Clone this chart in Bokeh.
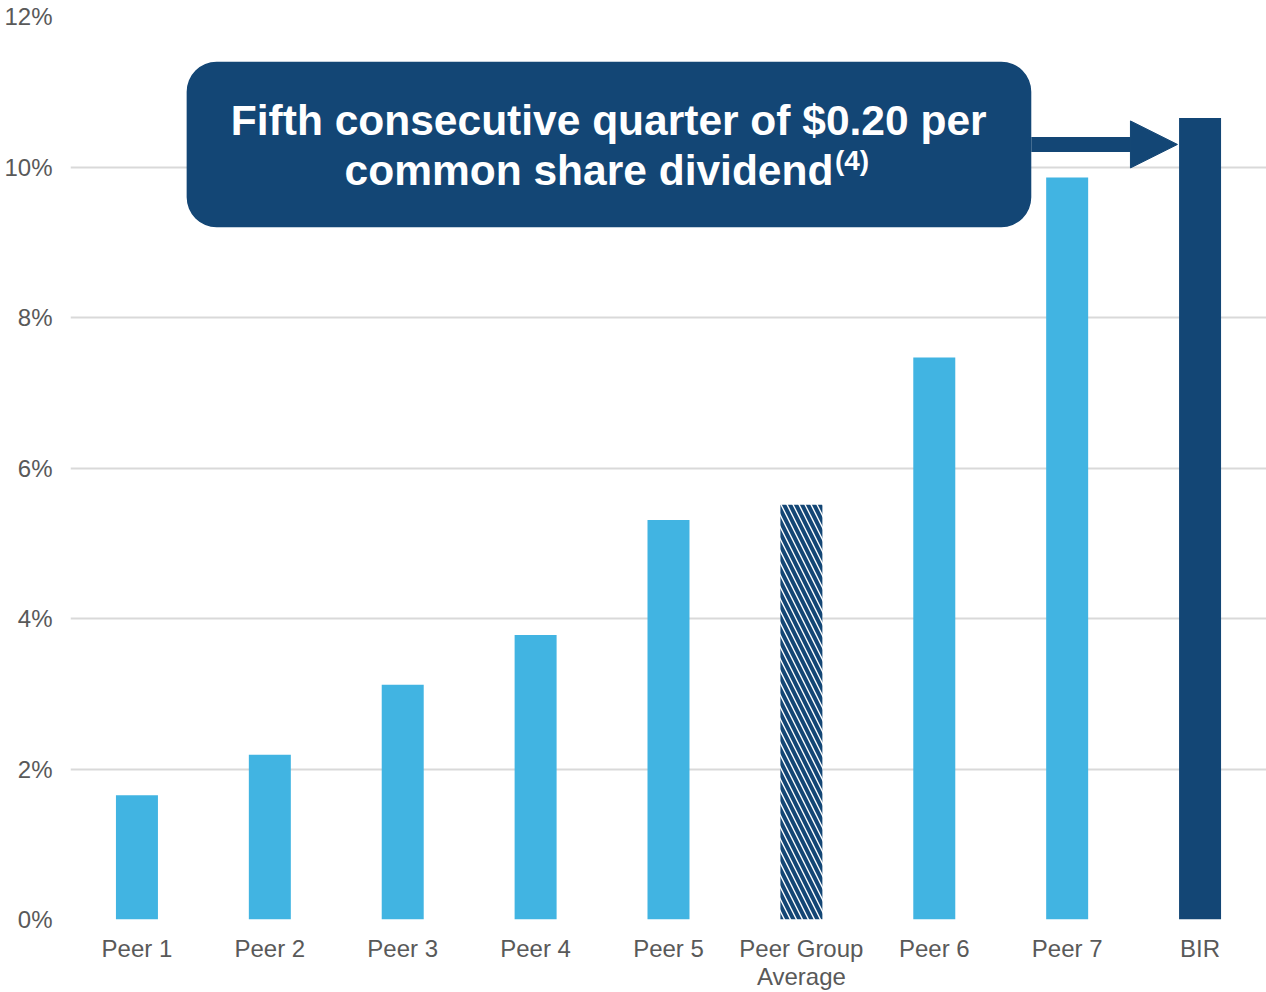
from bokeh.plotting import figure
from bokeh.models import (Range1d, FixedTicker, PrintfTickFormatter, BoxAnnotation,
                          Label, Arrow, NormalHead)
from bokeh.embed import file_html
from bokeh.resources import INLINE

# ---- data ----
categories = ["Peer 1", "Peer 2", "Peer 3", "Peer 4", "Peer 5",
              "Peer Group\nAverage", "Peer 6", "Peer 7", "BIR"]
values = [1.65, 2.19, 3.12, 3.78, 5.31, 5.51, 7.47, 9.86, 10.65]
kinds = ["peer", "peer", "peer", "peer", "peer", "avg", "peer", "peer", "bir"]
y_ticks = [0, 2, 4, 6, 8, 10, 12]
title_line1 = "Fifth consecutive quarter of $0.20 per"
title_line2 = "common share dividend"
title_sup = "(4)"

LIGHT = "#41B4E2"
NAVY = "#134675"
GRID = "#D9D9D9"
LABEL = "#595959"
FONT = "Liberation Sans"

xs = [i + 0.5 for i in range(len(categories))]

p = figure(width=1266, height=992, output_backend="svg", toolbar_location=None,
           x_range=Range1d(0, len(categories)), y_range=Range1d(0, 12),
           min_border_left=70, min_border_right=0, min_border_top=16,
           min_border_bottom=72)
p.outline_line_color = None
p.background_fill_color = "white"
p.border_fill_color = "white"

# plain bars
for kind, col in (("peer", LIGHT), ("bir", NAVY)):
    bx = [x for x, k in zip(xs, kinds) if k == kind]
    bt = [v for v, k in zip(values, kinds) if k == kind]
    p.vbar(x=bx, top=bt, width=0.316, fill_color=col, line_color=None)

# hatched average bar
ax = [x for x, k in zip(xs, kinds) if k == "avg"]
at = [v for v, k in zip(values, kinds) if k == "avg"]
p.vbar(x=ax, top=at, width=0.316, fill_color="white", line_color=None,
       hatch_pattern="left_diagonal_line", hatch_color=NAVY,
       hatch_scale=12, hatch_weight=4)

# axes
p.xaxis.ticker = FixedTicker(ticks=xs)
p.xaxis.major_label_overrides = {x: c for x, c in zip(xs, categories)}
p.yaxis.ticker = FixedTicker(ticks=y_ticks)
p.yaxis.formatter = PrintfTickFormatter(format="%d%%")
for axis in (p.xaxis, p.yaxis):
    axis.axis_line_color = None
    axis.major_tick_line_color = None
    axis.minor_tick_line_color = None
    axis.major_tick_out = 0
    axis.major_tick_in = 0
    axis.major_label_text_font = FONT
    axis.major_label_text_font_size = "24px"
    axis.major_label_text_color = LABEL
p.xaxis.major_label_standoff = 15
p.xaxis.major_label_text_line_height = 1.05
p.yaxis.major_label_standoff = 18

p.xgrid.grid_line_color = None
p.ygrid.grid_line_color = GRID
p.ygrid.grid_line_width = 2

# callout box
p.add_layout(BoxAnnotation(left=0.874, right=7.23, bottom=9.20, top=11.40,
                           fill_color=NAVY, fill_alpha=1.0, line_color=None,
                           border_radius=30))
p.add_layout(Label(x=4.05, y=10.62, text=title_line1, text_align="center",
                   text_baseline="alphabetic", text_font=FONT,
                   text_font_size="42.5px", text_font_style="bold",
                   text_color="white"))
p.add_layout(Label(x=5.741, y=9.95, text=title_line2, text_align="right",
                   text_baseline="alphabetic", text_font=FONT,
                   text_font_size="42.5px", text_font_style="bold",
                   text_color="white"))
p.add_layout(Label(x=5.752, y=10.08, text=title_sup, text_align="left",
                   text_baseline="alphabetic", text_font=FONT,
                   text_font_size="28px", text_font_style="bold",
                   text_color="white"))

# arrow to BIR bar
p.add_layout(Arrow(x_start=7.23, y_start=10.30, x_end=8.33, y_end=10.30,
                   line_color=NAVY, line_width=15,
                   end=NormalHead(size=47, fill_color=NAVY, line_color=NAVY,
                                  line_width=1)))

open("out.html", "w").write(file_html(p, INLINE))
